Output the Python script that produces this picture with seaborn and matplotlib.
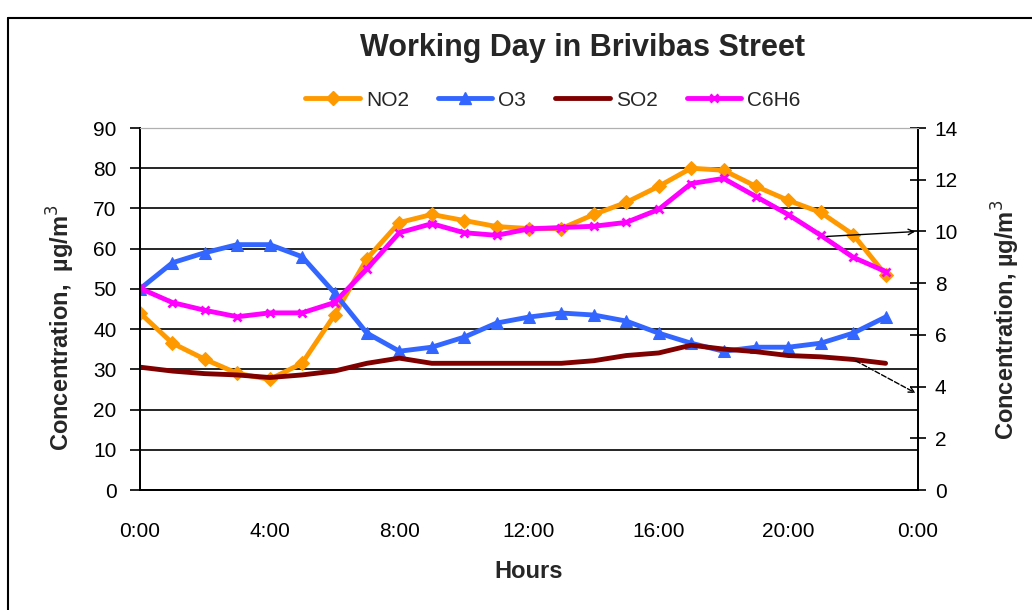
import matplotlib
matplotlib.use("Agg")
import matplotlib.pyplot as plt
from matplotlib.lines import Line2D
import seaborn as sns
import pandas as pd


# hourly concentrations
hours = list(range(24))
no2 = [44, 36.5, 32.5, 29, 27.5, 31.5, 43.5, 57.5, 66.5, 68.5, 67, 65.5,
       65, 65, 68.5, 71.5, 75.5, 80, 79.5, 75.5, 72, 69, 63.5, 53.5]
o3 = [50, 56.5, 59, 61, 61, 58, 49, 39, 34.5, 35.5, 38, 41.5,
      43, 44, 43.5, 42, 39, 36.5, 34.5, 35.5, 35.5, 36.5, 39, 43]
# SO2 and C6H6 are on the secondary axis
so2 = [4.75, 4.6, 4.5, 4.45, 4.35, 4.45, 4.6, 4.9, 5.1, 4.9, 4.9, 4.9,
       4.9, 4.9, 5.0, 5.2, 5.3, 5.6, 5.45, 5.35, 5.2, 5.15, 5.05, 4.9]
c6h6 = [7.8, 7.25, 6.95, 6.7, 6.85, 6.85, 7.25, 8.55, 9.95, 10.3, 9.95, 9.85,
        10.1, 10.15, 10.2, 10.35, 10.85, 11.85, 12.05, 11.35, 10.65, 9.85, 9.0, 8.45]

x_ticks = [0, 4, 8, 12, 16, 20, 24]
x_labels = ["0:00", "4:00", "8:00", "12:00", "16:00", "20:00", "0:00"]

colors = {"NO2": "#FF9900", "O3": "#3366FF", "SO2": "#800000", "C6H6": "#FF00FF"}

df = pd.DataFrame({"Hour": hours, "NO2": no2, "O3": o3, "SO2": so2, "C6H6": c6h6})

sns.set_style("white")
plt.rcParams["font.family"] = ["Liberation Sans", "DejaVu Sans"]

fig = plt.figure(figsize=(10.32, 6.10), dpi=100)
ax = fig.add_axes([140 / 1032, 1 - 490 / 610, 778 / 1032, 362 / 610])
ax2 = ax.twinx()

lw = 3.5
sns.lineplot(data=df, x="Hour", y="NO2", ax=ax, color=colors["NO2"], linewidth=lw,
             marker="D", markersize=7, markeredgecolor=colors["NO2"])
sns.lineplot(data=df, x="Hour", y="O3", ax=ax, color=colors["O3"], linewidth=lw,
             marker="^", markersize=8, markeredgecolor=colors["O3"])
sns.lineplot(data=df, x="Hour", y="SO2", ax=ax2, color=colors["SO2"], linewidth=lw)
sns.lineplot(data=df, x="Hour", y="C6H6", ax=ax2, color=colors["C6H6"], linewidth=lw,
             marker="x", markersize=6, markeredgewidth=2, markeredgecolor=colors["C6H6"])

# left axis
ax.set_xlim(0, 24)
ax.set_ylim(0, 90)
ax.set_yticks(range(0, 91, 10))
ax.set_xticks(x_ticks)
ax.set_xticklabels(x_labels)
ax.tick_params(axis="both", labelsize=15, colors="black", length=7, width=1.2)
ax.tick_params(axis="x", direction="out", pad=16)
ax.tick_params(axis="y", direction="out", pad=10)
ax.grid(axis="y", color="black", linewidth=1.2)
ax.set_axisbelow(True)
ax.set_xlabel("Hours", fontsize=17, fontweight="bold", labelpad=14)
ax.set_ylabel("Concentration,  µg/m$^3$", fontsize=17, fontweight="bold")
ax.yaxis.set_label_coords(-0.081, 0.45)

# right axis
ax2.set_ylim(0, 14)
ax2.set_yticks(range(0, 15, 2))
ax2.tick_params(axis="y", labelsize=15, colors="black", direction="inout", length=12,
                width=1.2, pad=6)
ax2.set_ylabel("Concentration, µg/m$^3$", fontsize=17, fontweight="bold")
ax2.yaxis.set_label_coords(1.092, 0.47)

for a in (ax, ax2):
    a.spines["top"].set_color("#b0b0b0")
    for side in ("left", "right", "bottom"):
        a.spines[side].set_color("black")
        a.spines[side].set_linewidth(1.3)

# arrows pointing series to the secondary axis
ax2.annotate("", xy=(24, 10), xytext=(21.1, 9.8),
             arrowprops=dict(arrowstyle="->", color="black", lw=1))
ax2.annotate("", xy=(24, 3.7), xytext=(22.0, 5.05),
             arrowprops=dict(arrowstyle="->", color="black", lw=1, linestyle="--"))

fig.suptitle("Working Day in Brivibas Street", x=582 / 1032, y=1 - 48 / 610,
             va="center", fontsize=22, fontweight="bold")

handles = [
    Line2D([], [], color=colors["NO2"], lw=lw, marker="D", markersize=7),
    Line2D([], [], color=colors["O3"], lw=lw, marker="^", markersize=8),
    Line2D([], [], color=colors["SO2"], lw=lw),
    Line2D([], [], color=colors["C6H6"], lw=lw, marker="x", markersize=6, markeredgewidth=2),
]
fig.legend(handles, ["NO2", "O3", "SO2", "C6H6"], loc="center",
           bbox_to_anchor=(553 / 1032, 1 - 100 / 610), ncol=4, frameon=False,
           fontsize=15, handlelength=2.6, columnspacing=1.4, handletextpad=0.3)

# outer chart frame
fig.add_artist(Line2D([8 / 1032, 8 / 1032], [0, 1 - 18 / 610], color="black", lw=1.5,
                      transform=fig.transFigure))
fig.add_artist(Line2D([8 / 1032, 1], [1 - 18 / 610, 1 - 18 / 610], color="black", lw=1.5,
                      transform=fig.transFigure))

fig.savefig("out.png", dpi=100)
